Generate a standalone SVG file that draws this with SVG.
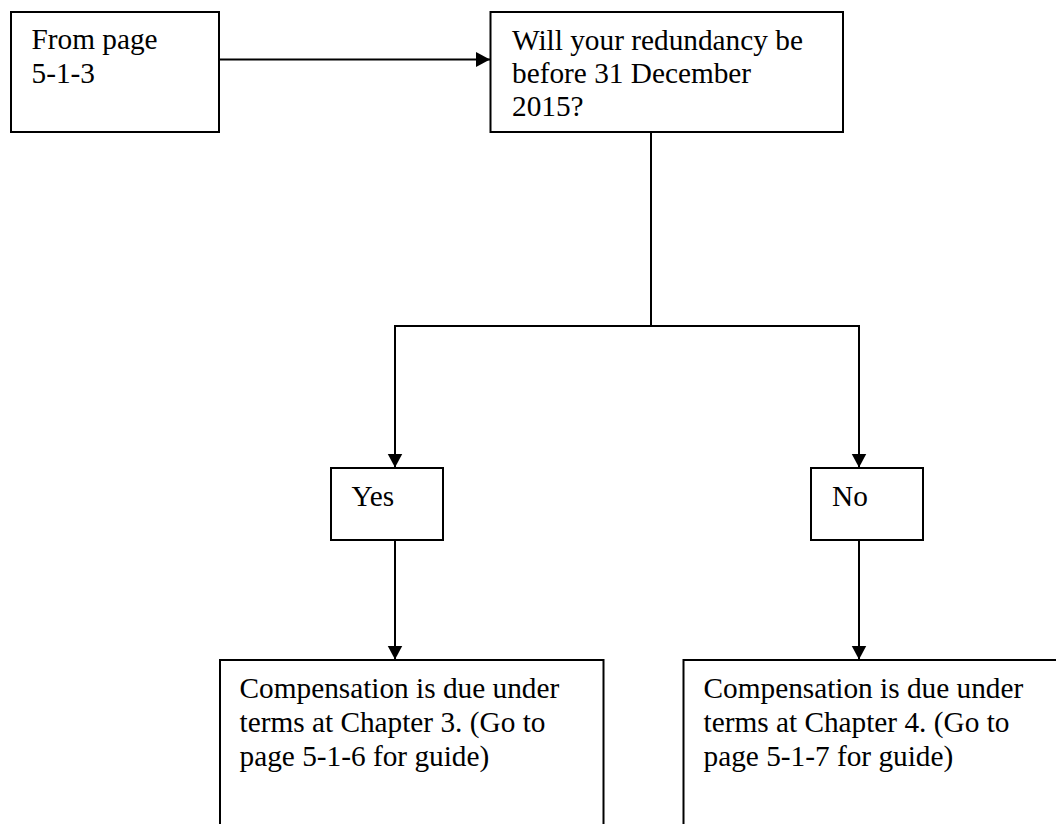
<svg xmlns="http://www.w3.org/2000/svg" width="1056" height="824" viewBox="0 0 1056 824">
  <style>
    .box { fill: #ffffff; stroke: #000000; stroke-width: 2; }
    .conn { fill: none; stroke: #000000; stroke-width: 2; }
    .t { font-family: "Liberation Serif", "Times New Roman", serif; font-size: 29.3px; fill: #000000; }
  </style>
  <defs>
    <marker id="arrow" markerUnits="userSpaceOnUse" markerWidth="15" markerHeight="16" refX="14" refY="8" orient="auto">
      <path d="M0,0.5 L14,8 L0,15.5 Z" fill="#000000"/>
    </marker>
  </defs>
  <rect width="1056" height="824" fill="#ffffff"/>

  <g id="connectors">
    <line class="conn" x1="219" y1="59.5" x2="490" y2="59.5" marker-end="url(#arrow)"/>
    <polyline class="conn" points="651,132 651,326"/>
    <polyline class="conn" points="395,326 859,326"/>
    <line class="conn" x1="395" y1="325" x2="395" y2="467.5" marker-end="url(#arrow)"/>
    <line class="conn" x1="859" y1="325" x2="859" y2="467.5" marker-end="url(#arrow)"/>
    <line class="conn" x1="395" y1="540" x2="395" y2="659.5" marker-end="url(#arrow)"/>
    <line class="conn" x1="859" y1="540" x2="859" y2="659.5" marker-end="url(#arrow)"/>
  </g>

  <g id="node-from">
    <rect class="box" x="11" y="12" width="208" height="120"/>
    <text class="t" x="31.5" y="49">From page</text>
    <text class="t" x="31.5" y="82.5">5-1-3</text>
  </g>

  <g id="node-question">
    <rect class="box" x="490.5" y="12" width="352.5" height="120"/>
    <text class="t" x="512" y="49.5">Will your redundancy be</text>
    <text class="t" x="512" y="82.5">before 31 December</text>
    <text class="t" x="512" y="115.5">2015?</text>
  </g>

  <g id="node-yes">
    <rect class="box" x="331" y="468" width="112" height="72"/>
    <text class="t" x="351.5" y="505.5">Yes</text>
  </g>

  <g id="node-no">
    <rect class="box" x="811" y="468" width="112" height="72"/>
    <text class="t" x="832" y="505.5">No</text>
  </g>

  <g id="node-chapter3">
    <rect class="box" x="220" y="660" width="383.5" height="200"/>
    <text class="t" x="239.5" y="697.5">Compensation is due under</text>
    <text class="t" x="239.5" y="731.5">terms at Chapter 3. (Go to</text>
    <text class="t" x="239.5" y="765.5">page 5-1-6 for guide)</text>
  </g>

  <g id="node-chapter4">
    <rect class="box" x="683.5" y="660" width="400" height="200"/>
    <text class="t" x="703.5" y="697.5">Compensation is due under</text>
    <text class="t" x="703.5" y="731.5">terms at Chapter 4. (Go to</text>
    <text class="t" x="703.5" y="765.5">page 5-1-7 for guide)</text>
  </g>
</svg>
